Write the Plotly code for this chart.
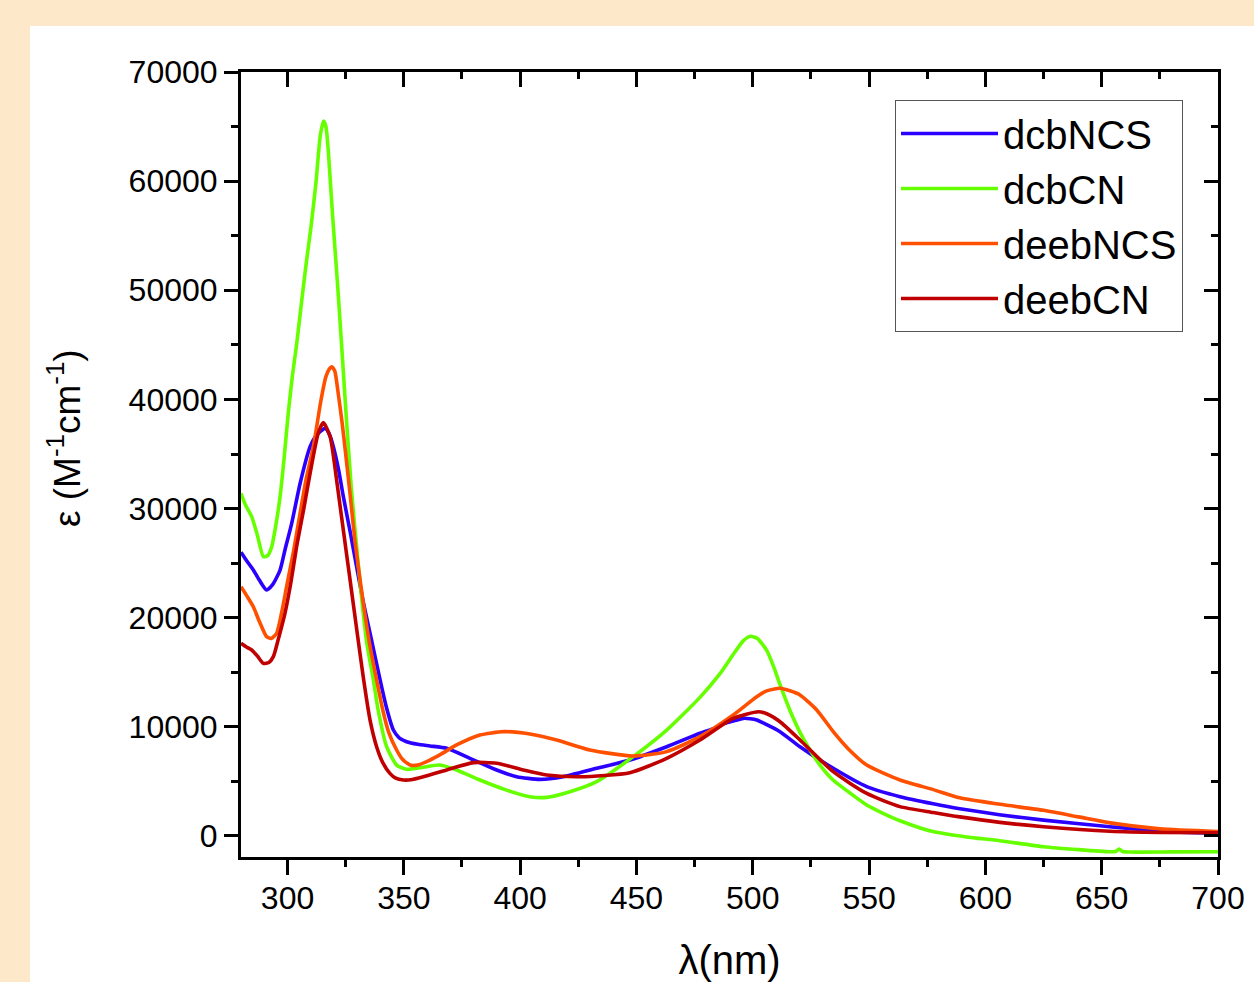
import plotly.graph_objects as go

# ---------------- data ----------------
wl_dcbCN = [280, 282, 284.6, 287, 289.6, 291.5, 293.2, 295, 296.8, 298.6, 300.3, 302, 304, 305.8, 308, 310.1,
            312.2, 314.1, 315.5, 316.5, 317.5, 319.4, 321.6, 323.7, 325.6, 327.5, 329.7, 332, 334, 336.9,
            339, 342.6, 346.9, 351.2, 358.4, 365.5, 372.7, 382.7, 394.2, 404.2, 411.4, 421.4, 432.9, 448.6,
            463, 477.3, 486, 491.5, 496, 499, 502, 506, 509, 512, 516, 520.3, 524.6, 528.9, 534.5, 541.8,
            549, 556, 563.3, 577.5, 591.9, 606, 625, 640, 653.6, 656, 657.5, 659, 662, 680, 700]
eps_dcbCN = [31400, 30300, 29260, 27600, 25600, 25700, 26500, 28500, 31100, 34760, 38700, 42000, 45200, 48500,
             52400, 55830, 59800, 64200, 65500, 65000, 62860, 56750, 50300, 43500, 37300, 31700, 26500, 21500,
             17800, 14300, 11500, 8180, 6500, 6110, 6300, 6500, 6050, 5130, 4200, 3600, 3540, 4060, 4980, 7270,
             9700, 12700, 14900, 16600, 17900, 18300, 18100, 17000, 15500, 13700, 11500, 9500, 7880, 6500,
             5130, 3940, 2840, 2080, 1400, 400, -90, -430, -980, -1250, -1440, -1420, -1200, -1420, -1470,
             -1460, -1440]

wl_dcbNCS = [280, 282.5, 285.3, 288, 291, 293.5, 296.8, 299, 301.8, 305.4, 309.7, 312, 314, 316.1, 318,
             319.7, 322, 324, 327, 329.7, 332.5, 335.5, 339.8, 342.5, 345.5, 348, 351.2, 356, 361.2, 368.4,
             378.4, 389.9, 398.5, 408.5, 418.5, 432.9, 447.2, 463, 477.3, 484, 485.9, 491, 496, 501.7, 506,
             511.7, 520.3, 534.6, 549, 563.3, 577.6, 589, 606, 625, 653.6, 675, 700]
eps_dcbNCS = [26000, 25200, 24370, 23400, 22540, 23000, 24370, 26300, 28650, 32300, 35670, 36600, 37040,
              37350, 36800, 35670, 33500, 31090, 27800, 24670, 21500, 18570, 14300, 11800, 9710, 9000, 8640,
              8400, 8250, 8030, 7120, 6050, 5430, 5190, 5430, 6200, 6960, 8180, 9410, 9900, 10170, 10500,
              10780, 10630, 10200, 9560, 8180, 6200, 4520, 3600, 2950, 2500, 1950, 1450, 850, 450, 250]

wl_deebNCS = [280, 282.5, 285.3, 288, 291, 293, 295.3, 297.5, 299.6, 302.5, 305.4, 308, 311.1, 314.4, 316.5,
              318, 319, 320.3, 321.6, 323.5, 325, 326.9, 329, 331.2, 333.5, 335.5, 338.3, 341, 343.5, 346.9,
              349.5, 352.7, 356, 361.2, 366, 372.7, 382.7, 392.8, 404.2, 415.7, 430, 448.6, 463, 477.3, 491.6,
              501.7, 506, 511.7, 516, 520.3, 527.5, 534.6, 541, 549, 563.3, 577.6, 589, 606.3, 624.9, 640,
              653.6, 675, 700]
eps_deebNCS = [22840, 22000, 21000, 19600, 18260, 18100, 18570, 20500, 22840, 26000, 29570, 32700, 35670,
               39950, 42090, 42800, 43000, 42600, 40870, 37800, 35000, 31300, 27000, 23460, 20000, 17350,
               14300, 11500, 9500, 7880, 7000, 6500, 6500, 6960, 7500, 8340, 9250, 9560, 9350, 8800, 7880,
               7330, 7730, 9100, 11090, 12760, 13300, 13530, 13300, 12920, 11550, 9560, 8000, 6500, 5130,
               4250, 3500, 2900, 2350, 1750, 1200, 650, 400]

wl_deebCN = [280, 282.5, 284.6, 287, 289.6, 292, 293.9, 296, 298.9, 301.5, 303.9, 307, 309.7, 313.2, 315.4,
             318.3, 321.1, 323, 325.4, 327.5, 329.7, 332.6, 335.5, 338.3, 341, 344, 346.5, 349.8, 353, 358.4,
             368.4, 379.9, 389.9, 401.4, 411.4, 425.7, 447.2, 463, 477.3, 491.6, 502.4, 506, 511.7, 520.3,
             534.6, 549, 563.3, 577.6, 589, 606.3, 625, 653.6, 675, 700]
eps_deebCN = [17660, 17300, 17040, 16500, 15820, 15900, 16430, 18000, 20400, 23300, 26500, 30000, 33230,
              36900, 37870, 36600, 32620, 29600, 25800, 22500, 19000, 14500, 10600, 8180, 6700, 5740, 5300,
              5130, 5150, 5430, 6050, 6720, 6660, 6050, 5590, 5430, 5800, 7120, 8800, 10780, 11390, 11200,
              10470, 8800, 5890, 3900, 2690, 2150, 1750, 1250, 850, 430, 320, 300]

series_names = ["dcbNCS", "dcbCN", "deebNCS", "deebCN"]
series_colors = ["#2B00FF", "#66FF00", "#FF5000", "#C00000"]

x_tick0, x_dtick, x_minor = 300, 50, 25
y_tick0, y_dtick, y_minor = 0, 10000, 5000
x_range = [280, 700]
y_range = [-1925, 70000]

x_title = "λ(nm)"
y_title = "ε (M<sup>-1</sup>cm<sup>-1</sup>)"

FONT = "Liberation Sans, Arial, sans-serif"

# plot-area geometry in pixels
W, H = 1254, 982
L, R, T, B = 241, 36, 72, 125
PW, PH = W - L - R, H - T - B

fig = go.Figure()
data = [(wl_dcbNCS, eps_dcbNCS), (wl_dcbCN, eps_dcbCN), (wl_deebNCS, eps_deebNCS), (wl_deebCN, eps_deebCN)]
for (wl, ep), name, col in zip(data, series_names, series_colors):
    fig.add_trace(go.Scatter(x=wl, y=ep, mode="lines", name=name,
                             line=dict(color=col, width=3.6, shape="spline", smoothing=0.6)))

# dummy trace to activate mirrored (inward-tick) axes
fig.add_trace(go.Scatter(x=[None], y=[None], xaxis="x2", yaxis="y2", showlegend=False, hoverinfo="skip"))

axis_common = dict(showgrid=False, zeroline=False, linecolor="black", tickcolor="black", automargin=False)

fig.update_layout(
    width=W, height=H,
    paper_bgcolor="#FDE9C9", plot_bgcolor="white",
    margin=dict(l=L, r=R, t=T, b=B, autoexpand=False),
    font=dict(family=FONT, color="black", size=32),
    showlegend=True,
    legend=dict(x=(895 - L) / PW, y=(H - B - 100) / PH, xanchor="left", yanchor="top",
                bgcolor="white", bordercolor="#555555", borderwidth=1,
                font=dict(size=40, family=FONT), itemwidth=97, tracegroupgap=0),
    xaxis=dict(range=x_range, tick0=x_tick0, dtick=x_dtick, ticks="outside", ticklen=15, tickwidth=2.5,
               showline=True, linewidth=3, mirror=True, ticklabelstandoff=-4,
               minor=dict(dtick=x_minor, ticks="outside", ticklen=7, tickwidth=2.5, tickcolor="black"),
               tickfont=dict(size=32), title=dict(text=x_title, font=dict(size=40), standoff=34),
               **axis_common),
    yaxis=dict(range=y_range, tick0=y_tick0, dtick=y_dtick, ticks="outside", ticklen=14, tickwidth=2.5,
               showline=True, linewidth=3, mirror=True, tickformat="d",
               minor=dict(dtick=y_minor, ticks="outside", ticklen=7, tickwidth=2.5, tickcolor="black"),
               tickfont=dict(size=32), **axis_common),
    xaxis2=dict(range=x_range, overlaying="x", side="top", anchor="y", tick0=x_tick0, dtick=x_dtick,
                ticks="inside", ticklen=15, tickwidth=2.5, showticklabels=False, showline=False,
                minor=dict(dtick=x_minor, ticks="inside", ticklen=7, tickwidth=2.5, tickcolor="black"),
                **axis_common),
    yaxis2=dict(range=y_range, overlaying="y", side="right", anchor="x", tick0=y_tick0, dtick=y_dtick,
                ticks="inside", ticklen=14, tickwidth=2.5, showticklabels=False, showline=False,
                minor=dict(dtick=y_minor, ticks="inside", ticklen=7, tickwidth=2.5, tickcolor="black"),
                **axis_common),
)

# y-axis title (placed like the reference: slightly above the plot centre)
fig.add_annotation(text=y_title, xref="paper", yref="paper",
                   x=(64 - L) / PW, y=(H - B - 438) / PH, xanchor="center", yanchor="middle",
                   textangle=-90, showarrow=False, font=dict(size=37, family=FONT, color="black"))

# white card behind the chart (peach border on top/left)
fig.add_shape(type="rect", xref="paper", yref="paper",
              x0=(30 - L) / PW, x1=(W + 5 - L) / PW,
              y0=(H - B - H - 5) / PH, y1=(H - B - 26) / PH,
              fillcolor="white", line=dict(width=0), layer="below")

fig.write_html("out.html")
